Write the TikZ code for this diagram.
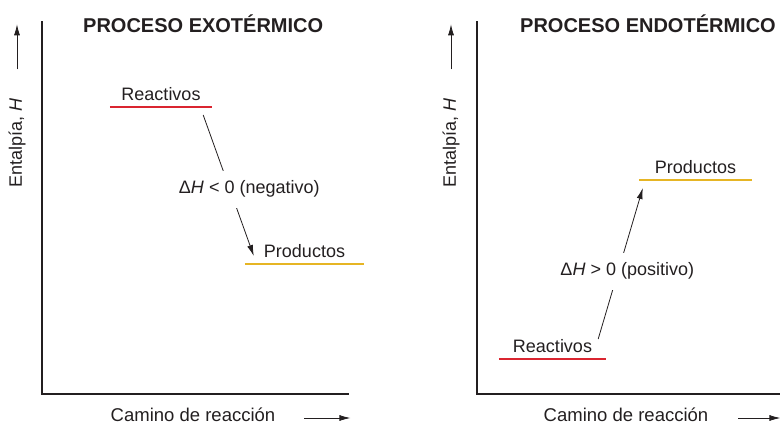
\documentclass[tikz,border=0pt]{standalone}
\usepackage{fontspec}
\setmainfont{Liberation Sans}
\usetikzlibrary{arrows.meta, calc, positioning}
\definecolor{reacred}{RGB}{218,37,48}
\definecolor{prodgold}{RGB}{230,181,36}
\definecolor{ink}{RGB}{35,31,32}

\begin{document}
\begin{tikzpicture}[x=1pt, y=-1pt, >={Latex[length=11pt,width=6pt]}, font=\fontsize{18}{21}\selectfont, text=ink,
    level/.style={minimum width=#1, inner sep=2pt, text height=13pt, text depth=4pt, anchor=south},
    title/.style={font=\fontsize{20}{24}\selectfont\bfseries, anchor=west, inner sep=2pt},
    axis/.style={draw=ink, line width=2pt},
    reac/.style={draw=reacred, line width=2.6pt},
    prod/.style={draw=prodgold, line width=2.6pt},
    dh/.style={fill=white, inner xsep=2pt, inner ysep=10pt, text height=13pt, text depth=4pt}]

\useasboundingbox (0,0) rectangle (780,426);

% proceso exotermico
\node[title] (exo) at (81,24) {PROCESO EXOTÉRMICO};
\draw[axis] (42,21) |- (349,394);
\node[rotate=90, inner sep=2pt] (exoH) at (17,143) {Entalpía, \textit{H}};
\draw[->, draw=ink, line width=0.8pt] ($(exoH.east)+(0,-27)$) -- ++(0,-45);
\node[inner sep=2pt, font=\fontsize{18.5}{21}\selectfont] (exoC) at (193,415) {Camino de reacción};
\draw[->, draw=ink, line width=0.8pt] ($(exoC.east)+(27,3)$) -- ++(46,0);

\node[level=102pt] (exoR) at (161,107) {Reactivos};
\draw[reac] (exoR.south west) -- (exoR.south east);
\node[level=119pt] (exoP) at (304.5,264) {Productos};
\draw[prod] (exoP.south west) -- (exoP.south east);
\draw[->, draw=ink, line width=0.8pt] ($(exoR.south east)+(-9,8)$) -- node[dh, pos=0.525, xshift=19.5pt] (exoDH) {Δ\textit{H} < 0 (negativo)} ($(exoP.south west)+(9,-8)$);

% proceso endotermico
\node[title] (endo) at (518,24) {PROCESO ENDOTÉRMICO};
\draw[axis] (477,21) |- (780,394);
\node[rotate=90, inner sep=2pt] (endoH) at (451,143) {Entalpía, \textit{H}};
\draw[->, draw=ink, line width=0.8pt] ($(endoH.east)+(0,-27)$) -- ++(0,-45);
\node[inner sep=2pt, font=\fontsize{18.5}{21}\selectfont] (endoC) at (626,415) {Camino de reacción};
\draw[->, draw=ink, line width=0.8pt] ($(endoC.east)+(28,3)$) -- ++(42,0);

\node[level=107pt] (endoR) at (552.5,359) {Reactivos};
\draw[reac] (endoR.south west) -- (endoR.south east);
\node[level=113pt] (endoP) at (695.5,180) {Productos};
\draw[prod] (endoP.south west) -- (endoP.south east);
\draw[->, draw=ink, line width=0.8pt] ($(endoR.south east)+(-8,-20)$) -- node[dh, pos=0.45, xshift=9pt] (endoDH) {Δ\textit{H} > 0 (positivo)} ($(endoP.south west)+(4,8)$);

\end{tikzpicture}
\end{document}
